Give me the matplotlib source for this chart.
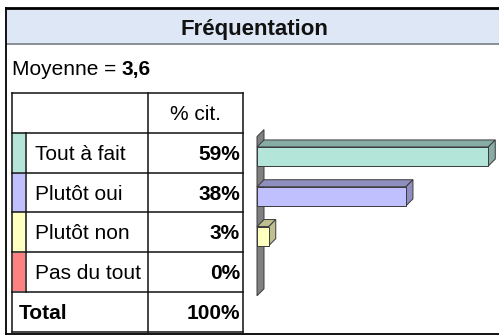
import matplotlib
matplotlib.use('Agg')
import matplotlib.pyplot as plt
from matplotlib.patches import Rectangle, Polygon

plt.rcParams['font.family'] = ['Liberation Sans', 'DejaVu Sans']

# data
title = 'Fréquentation'
mean_label = 'Moyenne = '
mean_value = '3,6'
header = '% cit.'
categories = ['Tout à fait', 'Plutôt oui', 'Plutôt non', 'Pas du tout']
values = [59, 38, 3, 0]
total = 100
front_colors = ['#b3e6d9', '#c0c0ff', '#ffffc0', '#ff8080']
shade_colors = ['#86aca3', '#8f8fbf', '#bfbf90', '#bf6060']

W, H = 499, 336
fs = 15
fig = plt.figure(figsize=(W / 100, H / 100), dpi=100)

# pixel-space canvas for the frame, table and texts
ax = fig.add_axes([0, 0, 1, 1])
ax.set_xlim(0, W)
ax.set_ylim(H, 0)
ax.axis('off')

# title band and outer frame
ax.add_patch(Rectangle((7, 9), 500, 35, facecolor='#dde7f6', edgecolor='none'))
ax.plot([7, 505], [44, 44], color='#7f8790', lw=1.3)
ax.plot([6.5, 6.5], [8, 334], color='black', lw=1.3)
ax.plot([6, 505], [8, 8], color='black', lw=2.0)
ax.plot([6, 505], [334, 334], color='black', lw=1.3)
ax.text(254, 34.5, title, ha='center', va='baseline', fontsize=16,
        fontweight='bold', color='#111111')

t = ax.text(12, 75, mean_label, ha='left', va='baseline', fontsize=fs)
fig.canvas.draw()
bb = t.get_window_extent().transformed(ax.transData.inverted())
ax.text(bb.x1, 75, mean_value, ha='left', va='baseline', fontsize=fs,
        fontweight='bold')

# table grid
x_left, x_strip, x_mid, x_right = 12, 26, 148, 243
row_y = [93 + 39.8 * k for k in range(7)]
for y in row_y:
    ax.plot([x_left, x_right], [y, y], color='#111111', lw=1.1)
for x in (x_left, x_mid, x_right):
    ax.plot([x, x], [row_y[0], row_y[-1]], color='#111111', lw=1.1)
ax.plot([x_strip, x_strip], [row_y[1], row_y[5]], color='#111111', lw=1.1)

ax.text((x_mid + x_right) / 2, row_y[0] + 26.5, header, ha='center',
        va='baseline', fontsize=fs)

for i, (cat, v) in enumerate(zip(categories, values)):
    top = row_y[i + 1]
    ax.add_patch(Rectangle((x_left + 0.6, top + 0.6), x_strip - x_left - 1.2,
                           39.8 - 1.2, facecolor=front_colors[i],
                           edgecolor='none'))
    ax.text(35, top + 27, cat, ha='left', va='baseline', fontsize=fs)
    ax.text(240, top + 27, f'{v}%', ha='right', va='baseline', fontsize=fs,
            fontweight='bold')

ax.text(19, row_y[5] + 27, 'Total', ha='left', va='baseline', fontsize=fs,
        fontweight='bold')
ax.text(240, row_y[5] + 27, f'{total}%', ha='right', va='baseline',
        fontsize=fs, fontweight='bold')

# 3D-looking horizontal bars
px_per_pct = 3.92
bx0, bx1 = 257, 499
by0, by1 = 136.6, 295.8
bax = fig.add_axes([bx0 / W, 1 - by1 / H, (bx1 - bx0) / W, (by1 - by0) / H])
bax.set_xlim(0, (bx1 - bx0) / px_per_pct)
bax.set_ylim(len(values) - 0.5, -0.5)
bax.axis('off')
bax.patch.set_alpha(0)

dx = 7 / px_per_pct
dy = 7 / ((by1 - by0) / len(values))
edge = '#3a3a3a'

# left wall
bax.add_patch(Polygon([(0, len(values) - 0.5), (0, -0.5), (dx, -0.5 - dy),
                       (dx, len(values) - 0.5 - dy)], closed=True,
                      facecolor='#808080', edgecolor=edge, lw=0.7,
                      clip_on=False))

bar_h = 0.48
ypos = list(range(len(values)))
for i, v in enumerate(values):
    if v <= 0:
        continue
    top = ypos[i] - bar_h / 2
    bot = ypos[i] + bar_h / 2
    bax.add_patch(Polygon([(0, top), (v, top), (v + dx, top - dy), (dx, top - dy)],
                          closed=True, facecolor=shade_colors[i],
                          edgecolor=edge, lw=0.7, clip_on=False))
    bax.add_patch(Polygon([(v, top), (v, bot), (v + dx, bot - dy), (v + dx, top - dy)],
                          closed=True, facecolor=shade_colors[i],
                          edgecolor=edge, lw=0.7, clip_on=False))
bars = bax.barh(ypos, values, height=bar_h, color=front_colors,
                edgecolor=edge, lw=0.7)
for b, v in zip(bars, values):
    b.set_clip_on(False)
    if v == 0:
        b.set_visible(False)

fig.savefig('out.png', dpi=100)
